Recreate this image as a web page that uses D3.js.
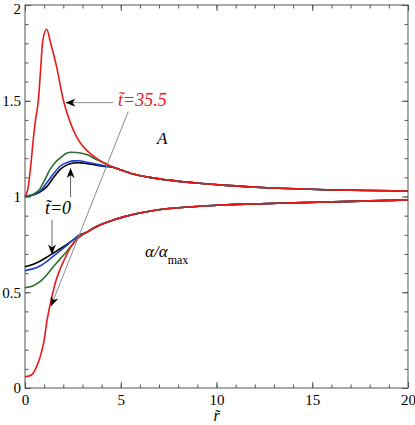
<!DOCTYPE html>
<html>
<head>
<meta charset="utf-8">
<script src="https://cdn.jsdelivr.net/npm/d3@7"></script>
<style>
  body { margin: 0; background: #fff; }
  text { font-family: "Liberation Serif", "DejaVu Serif", serif; }
</style>
</head>
<body>
<div id="chart"></div>
<script>
const WIDTH = 415
const HEIGHT = 425
const LEFT = 25, RIGHT = 408, TOP = 5, BOTTOM = 388

// A(r) pour chaque t~ (noir t=0, bleu, vert, rouge t=35.5)
const rA_black = [0, 0.5, 0.8, 1.13, 1.5, 1.83, 2.2, 2.52, 2.8, 3.22, 3.7, 4.07, 4.4]
const A_black  = [1, 1.01, 1.025, 1.05, 1.10, 1.14, 1.165, 1.175, 1.177, 1.172, 1.164, 1.158, 1.155]
const rA_blue  = [0, 0.5, 0.8, 1.13, 1.5, 1.83, 2.2, 2.52, 2.8, 3.22, 3.7, 4.07, 4.4]
const A_blue   = [1, 1.012, 1.03, 1.07, 1.12, 1.158, 1.178, 1.186, 1.187, 1.179, 1.17, 1.162, 1.157]
const rA_green = [0, 0.4, 0.78, 1.05, 1.3, 1.6, 1.83, 2.1, 2.35, 2.7, 3.22, 3.7, 4.07, 4.4]
const A_green  = [1, 1.01, 1.04, 1.09, 1.14, 1.18, 1.20, 1.222, 1.231, 1.23, 1.219, 1.195, 1.177, 1.16]
const rA_red   = [0, 0.15, 0.3, 0.43, 0.55, 0.7, 0.82, 0.92, 1.13, 1.34, 1.65, 2.0, 2.35, 2.7, 3.0, 3.4, 3.8, 4.2]
const A_red    = [1, 1.04, 1.16, 1.295, 1.40, 1.504, 1.67, 1.808, 1.873, 1.80, 1.678, 1.504, 1.39, 1.31, 1.265, 1.225, 1.195, 1.172]
// partie commune (toutes les courbes confondues)
const rA_tail = [4.6, 4.96, 5.66, 6.5, 7.4, 9.1, 10.5, 12.6, 14.5, 16.1, 18, 20]
const A_tail  = [1.153, 1.14, 1.117, 1.1, 1.087, 1.069, 1.058, 1.046, 1.039, 1.034, 1.031, 1.029]

// alpha/alpha_max
const rAl_black = [0, 0.4, 0.78, 1.13, 1.48, 1.83, 2.17, 2.5, 2.87]
const Al_black  = [0.633, 0.645, 0.662, 0.683, 0.705, 0.727, 0.749, 0.772, 0.80]
const rAl_blue  = [0, 0.4, 0.78, 1.13, 1.48, 1.83, 2.17, 2.5, 2.87]
const Al_blue   = [0.613, 0.622, 0.637, 0.66, 0.689, 0.716, 0.744, 0.772, 0.80]
const rAl_green = [0, 0.4, 0.78, 1.13, 1.48, 1.83, 2.17, 2.5, 2.87]
const Al_green  = [0.524, 0.533, 0.555, 0.59, 0.633, 0.673, 0.712, 0.752, 0.795]
const rAl_red   = [0, 0.2, 0.43, 0.6, 0.8, 1.0, 1.13, 1.39, 1.6, 1.83, 2.1, 2.35, 2.87]
const Al_red    = [0.059, 0.062, 0.077, 0.11, 0.165, 0.25, 0.34, 0.47, 0.555, 0.62, 0.68, 0.73, 0.79]
const rAl_tail  = [3.2, 3.57, 4.0, 4.6, 5.2, 6.5, 7.5, 9.1, 10.5, 12.6, 14.5, 16.1, 18, 20]
const Al_tail   = [0.812, 0.834, 0.855, 0.877, 0.895, 0.923, 0.937, 0.949, 0.957, 0.963, 0.968, 0.972, 0.977, 0.982]

const COLORS = { black: '#000000', blue: '#1c3fd0', green: '#2c6e2c', red: '#e8191a' }

const xScale = d3.scaleLinear().domain([0, 20]).range([LEFT, RIGHT])
const yScale = d3.scaleLinear().domain([0, 2]).range([BOTTOM, TOP])

const svg = d3.select('#chart').append('svg').attr('width', WIDTH).attr('height', HEIGHT)

// marqueur de fleche
svg.append('defs').append('marker')
    .attr('id', 'head')
    .attr('viewBox', '0 0 10 8')
    .attr('refX', 9.5).attr('refY', 4)
    .attr('markerWidth', 10).attr('markerHeight', 8)
    .attr('markerUnits', 'userSpaceOnUse')
    .attr('orient', 'auto')
    .append('path')
    .attr('d', 'M0,0 L10,4 L0,8 L3,4 Z')
    .attr('fill', '#000')

// axes : ticks vers l'interieur
function drawAxis(axis, tx, ty) {
    const g = svg.append('g').attr('transform', `translate(${tx},${ty})`).call(axis)
    g.select('.domain').remove()
    g.selectAll('line').attr('stroke', '#555')
    g.selectAll('text').attr('font-size', 15).attr('fill', '#000')
    return g
}
const minorX = d3.range(0, 21, 1), majorX = [0, 5, 10, 15, 20]
const minorY = d3.range(0, 2.01, 0.1), majorY = [0, 0.5, 1, 1.5, 2]

drawAxis(d3.axisBottom(xScale).tickValues(minorX).tickSize(-3.5).tickFormat(''), 0, BOTTOM)
drawAxis(d3.axisBottom(xScale).tickValues(majorX).tickSize(-6).tickPadding(6).tickFormat(d3.format('d')), 0, BOTTOM)
drawAxis(d3.axisTop(xScale).tickValues(minorX).tickSize(-3.5).tickFormat(''), 0, TOP)
drawAxis(d3.axisTop(xScale).tickValues(majorX).tickSize(-6).tickFormat(''), 0, TOP)
drawAxis(d3.axisLeft(yScale).tickValues(minorY).tickSize(-3.5).tickFormat(''), LEFT, 0)
drawAxis(d3.axisLeft(yScale).tickValues(majorY).tickSize(-6).tickPadding(4).tickFormat(d => d3.format('~g')(d)), LEFT, 0)
    .selectAll('text').filter(d => d === 2).attr('dy', '0.55em')
drawAxis(d3.axisRight(yScale).tickValues(minorY).tickSize(-3.5).tickFormat(''), RIGHT, 0)
drawAxis(d3.axisRight(yScale).tickValues(majorY).tickSize(-6).tickFormat(''), RIGHT, 0)

svg.append('rect')
    .attr('x', LEFT).attr('y', TOP)
    .attr('width', RIGHT - LEFT).attr('height', BOTTOM - TOP)
    .attr('fill', 'none').attr('stroke', '#555').attr('stroke-width', 1)

// courbes
const line = d3.line().x(d => xScale(d[0])).y(d => yScale(d[1])).curve(d3.curveMonotoneX)
const series = [
    ['black', rA_black, A_black, rA_tail, A_tail],
    ['blue', rA_blue, A_blue, rA_tail, A_tail],
    ['green', rA_green, A_green, rA_tail, A_tail],
    ['red', rA_red, A_red, rA_tail, A_tail],
    ['black', rAl_black, Al_black, rAl_tail, Al_tail],
    ['blue', rAl_blue, Al_blue, rAl_tail, Al_tail],
    ['green', rAl_green, Al_green, rAl_tail, Al_tail],
    ['red', rAl_red, Al_red, rAl_tail, Al_tail]
]
svg.append('g').selectAll('path')
    .data(series)
    .enter()
    .append('path')
    .attr('d', s => line(s[1].map((r, i) => [r, s[2][i]]).concat(s[3].map((r, i) => [r, s[4][i]]))))
    .attr('fill', 'none')
    .attr('stroke', s => COLORS[s[0]])
    .attr('stroke-width', 1.6)

// fleches d'annotation (en unites du graphe)
const arrows = [
    [4.6, 1.49, 2.14, 1.49, '#8c8c8c'],
    [5.39, 1.443, 1.36, 0.428, '#8c8c8c'],
    [2.38, 0.997, 2.38, 1.146, '#666'],
    [1.41, 0.877, 1.41, 0.70, '#666']
]
svg.append('g').selectAll('line')
    .data(arrows)
    .enter()
    .append('line')
    .attr('x1', d => xScale(d[0])).attr('y1', d => yScale(d[1]))
    .attr('x2', d => xScale(d[2])).attr('y2', d => yScale(d[3]))
    .attr('stroke', d => d[4])
    .attr('stroke-width', 1)
    .attr('marker-end', 'url(#head)')

// textes
svg.append('text')
    .attr('x', xScale(4.86)).attr('y', yScale(1.473))
    .attr('font-size', 18).attr('font-style', 'italic').attr('fill', COLORS.red)
    .text('t\u0303=35.5')
svg.append('text')
    .attr('x', xScale(1.04)).attr('y', yScale(0.909))
    .attr('font-size', 18).attr('font-style', 'italic').attr('fill', '#000')
    .text('t\u0303=0')
svg.append('text')
    .attr('x', xScale(6.89)).attr('y', yScale(1.274))
    .attr('font-size', 17).attr('font-style', 'italic')
    .text('A')
const al = svg.append('text')
    .attr('x', xScale(6.27)).attr('y', yScale(0.686))
    .attr('font-size', 17).attr('font-style', 'italic')
al.append('tspan').text('\u03b1/\u03b1')
al.append('tspan').attr('font-size', 12).attr('font-style', 'normal').attr('dy', 7).text('max')

svg.append('text')
    .attr('x', xScale(10)).attr('y', 421)
    .attr('text-anchor', 'middle')
    .attr('font-size', 16).attr('font-style', 'italic')
    .text('r\u0303')
</script>
</body>
</html>
